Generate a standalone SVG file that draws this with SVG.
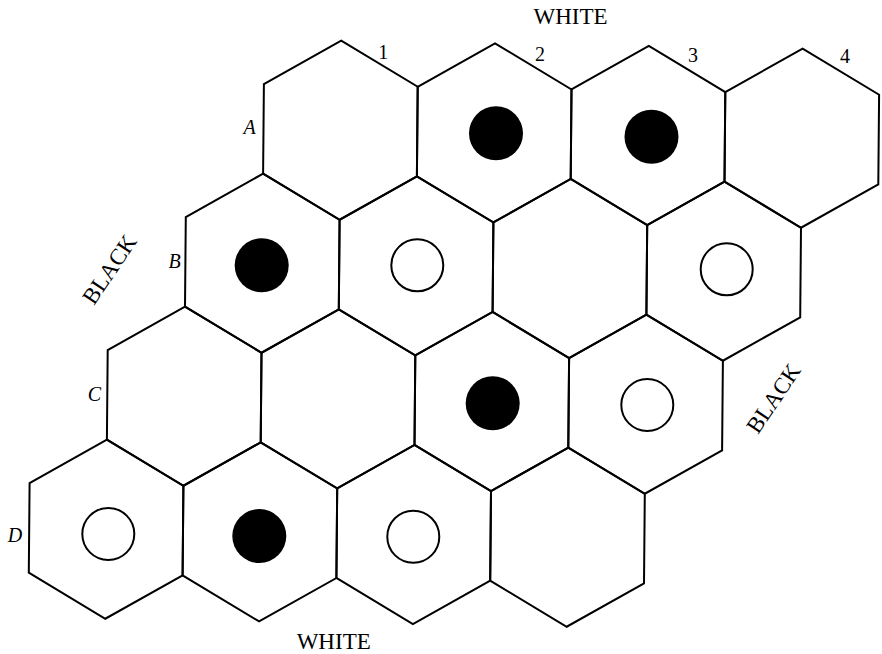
<svg xmlns="http://www.w3.org/2000/svg" xmlns:xlink="http://www.w3.org/1999/xlink" width="882" height="654" viewBox="0 0 882 654">
<style>
.hex{fill:none;stroke:#000;stroke-width:2;stroke-linejoin:miter}
.blk{fill:#000}
.wht{fill:#fff;stroke:#000;stroke-width:2}
.lbl{font-family:"Liberation Serif","Times New Roman",serif;fill:#000}
.it{font-style:italic}
</style>
<defs>
<path id="hex" d="M0,-88.8 L76.9,-44.4 L76.9,44.4 L0,88.8 L-76.9,44.4 L-76.9,-44.4 Z"/>
</defs>
<rect width="882" height="654" fill="#fff"/>
<g id="board">
<g id="A1"><use xlink:href="#hex" class="hex" transform="matrix(1,0.01736,-0.009,1.0085,340.4,130.2)"/></g>
<g id="A2"><use xlink:href="#hex" class="hex" transform="matrix(1,0.01736,-0.009,1.0085,494.2,132.9)"/><circle class="blk" cx="496" cy="133.3" r="27"/></g>
<g id="A3"><use xlink:href="#hex" class="hex" transform="matrix(1,0.01736,-0.009,1.0085,648,135.5)"/><circle class="blk" cx="651.5" cy="136.7" r="27"/></g>
<g id="A4"><use xlink:href="#hex" class="hex" transform="matrix(1,0.01736,-0.009,1.0085,801.8,138.2)"/></g>
<g id="B1"><use xlink:href="#hex" class="hex" transform="matrix(1,0.01736,-0.009,1.0085,262.3,263.2)"/><circle class="blk" cx="261.7" cy="265.3" r="27"/></g>
<g id="B2"><use xlink:href="#hex" class="hex" transform="matrix(1,0.01736,-0.009,1.0085,416.1,265.9)"/><circle class="wht" cx="417.3" cy="265.3" r="26"/></g>
<g id="B3"><use xlink:href="#hex" class="hex" transform="matrix(1,0.01736,-0.009,1.0085,569.9,268.5)"/></g>
<g id="B4"><use xlink:href="#hex" class="hex" transform="matrix(1,0.01736,-0.009,1.0085,723.7,271.2)"/><circle class="wht" cx="726.7" cy="269.3" r="26"/></g>
<g id="C1"><use xlink:href="#hex" class="hex" transform="matrix(1,0.01736,-0.009,1.0085,184.2,396.2)"/></g>
<g id="C2"><use xlink:href="#hex" class="hex" transform="matrix(1,0.01736,-0.009,1.0085,338,398.9)"/></g>
<g id="C3"><use xlink:href="#hex" class="hex" transform="matrix(1,0.01736,-0.009,1.0085,491.8,401.5)"/><circle class="blk" cx="492.7" cy="403.3" r="27"/></g>
<g id="C4"><use xlink:href="#hex" class="hex" transform="matrix(1,0.01736,-0.009,1.0085,645.6,404.2)"/><circle class="wht" cx="647.3" cy="405" r="26"/></g>
<g id="D1"><use xlink:href="#hex" class="hex" transform="matrix(1,0.01736,-0.009,1.0085,106.1,529.2)"/><circle class="wht" cx="108.3" cy="534" r="26"/></g>
<g id="D2"><use xlink:href="#hex" class="hex" transform="matrix(1,0.01736,-0.009,1.0085,259.9,531.9)"/><circle class="blk" cx="259.3" cy="536" r="27"/></g>
<g id="D3"><use xlink:href="#hex" class="hex" transform="matrix(1,0.01736,-0.009,1.0085,413.7,534.5)"/><circle class="wht" cx="413.3" cy="536.7" r="26"/></g>
<g id="D4"><use xlink:href="#hex" class="hex" transform="matrix(1,0.01736,-0.009,1.0085,567.5,537.2)"/></g>
</g>
<g id="connectors"></g>
<g id="labels">
<text class="lbl" x="570.5" y="24" font-size="23" text-anchor="middle">WHITE</text>
<text class="lbl" x="333.7" y="649" font-size="23" text-anchor="middle">WHITE</text>
<text class="lbl" x="383.3" y="59" font-size="20" text-anchor="middle">1</text>
<text class="lbl" x="540" y="61" font-size="20" text-anchor="middle">2</text>
<text class="lbl" x="693" y="62.3" font-size="20" text-anchor="middle">3</text>
<text class="lbl" x="845" y="63.3" font-size="20" text-anchor="middle">4</text>
<text class="lbl it" x="249.7" y="134.3" font-size="20" text-anchor="middle">A</text>
<text class="lbl it" x="174.5" y="268.3" font-size="20" text-anchor="middle">B</text>
<text class="lbl it" x="94.5" y="400.7" font-size="20" text-anchor="middle">C</text>
<text class="lbl it" x="15" y="542.3" font-size="20" text-anchor="middle">D</text>
<text class="lbl" font-size="23" transform="translate(94,306) rotate(-56)">BLACK</text>
<text class="lbl" font-size="23" transform="translate(758,435) rotate(-56)">BLACK</text>
</g>
</svg>
